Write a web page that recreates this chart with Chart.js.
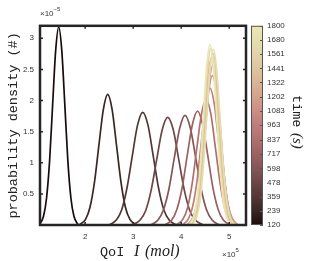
<!DOCTYPE html>
<html>
<head>
<meta charset="utf-8">
<script src="https://cdn.jsdelivr.net/npm/chart.js@4.4.0/dist/chart.umd.min.js"></script>
<style>
  html, body { margin: 0; padding: 0; background: #fff; }
  #wrap { width: 309px; height: 261px; }
</style>
</head>
<body>
<div id="wrap"><canvas id="pdfChart" width="309" height="261"></canvas></div>
<script>
// QoI in units of 1e5 mol, density in units of 1e-5
const times = [120, 239, 359, 478, 598, 717, 837, 963, 1083, 1202, 1322, 1441, 1561, 1680, 1800];

const c120 = [[1.044,0],[1.133,0.14],[1.196,0.43],[1.26,1.03],[1.323,1.93],[1.387,2.81],[1.45,3.18],[1.513,2.81],[1.577,1.93],[1.64,1.03],[1.704,0.43],[1.767,0.14],[1.856,0]];
const c239 = [[1.878,0],[2.008,0.09],[2.10,0.28],[2.193,0.68],[2.285,1.27],[2.378,1.85],[2.47,2.10],[2.563,1.85],[2.655,1.27],[2.748,0.68],[2.84,0.28],[2.933,0.09],[3.062,0]];
const c359 = [[2.496,0],[2.65,0.08],[2.76,0.24],[2.87,0.59],[2.98,1.10],[3.09,1.60],[3.20,1.81],[3.31,1.60],[3.42,1.10],[3.53,0.59],[3.64,0.24],[3.75,0.08],[3.904,0]];
const c478 = [[2.984,0],[3.145,0.08],[3.26,0.23],[3.375,0.56],[3.49,1.05],[3.605,1.53],[3.72,1.73],[3.835,1.53],[3.95,1.05],[4.065,0.56],[4.18,0.23],[4.295,0.08],[4.456,0]];
const c598 = [[3.36,0],[3.518,0.08],[3.63,0.24],[3.743,0.57],[3.855,1.07],[3.968,1.55],[4.08,1.76],[4.193,1.55],[4.305,1.07],[4.418,0.57],[4.53,0.24],[4.643,0.08],[4.80,0]];
const c717 = [[3.652,0],[3.803,0.08],[3.91,0.25],[4.018,0.59],[4.125,1.11],[4.233,1.61],[4.34,1.83],[4.448,1.61],[4.555,1.11],[4.663,0.59],[4.77,0.25],[4.878,0.08],[5.028,0]];
const c837 = [[3.896,0],[4.033,0.09],[4.13,0.27],[4.228,0.66],[4.325,1.23],[4.423,1.78],[4.52,2.02],[4.618,1.78],[4.715,1.23],[4.813,0.66],[4.91,0.27],[5.008,0.09],[5.144,0]];
const c963 = [[4.024,0],[4.15,0.10],[4.24,0.30],[4.33,0.71],[4.42,1.33],[4.51,1.94],[4.60,2.20],[4.69,1.94],[4.78,1.33],[4.87,0.71],[4.96,0.30],[5.05,0.10],[5.176,0]];
const c1083 = [[4.122,0],[4.238,0.11],[4.32,0.32],[4.403,0.78],[4.485,1.46],[4.568,2.12],[4.65,2.40],[4.733,2.12],[4.815,1.46],[4.898,0.78],[4.98,0.32],[5.063,0.11],[5.178,0]];
const c1202 = [[4.164,0],[4.273,0.11],[4.35,0.35],[4.428,0.83],[4.505,1.56],[4.583,2.27],[4.66,2.57],[4.738,2.27],[4.815,1.56],[4.893,0.83],[4.97,0.35],[5.048,0.11],[5.156,0]];
const c1322 = [[4.15,0],[4.255,0.12],[4.33,0.36],[4.405,0.87],[4.48,1.63],[4.555,2.37],[4.63,2.68],[4.705,2.37],[4.78,1.63],[4.855,0.87],[4.93,0.36],[5.005,0.12],[5.11,0]];
const c1441 = [[4.196,0],[4.298,0.12],[4.37,0.37],[4.443,0.90],[4.515,1.67],[4.588,2.44],[4.66,2.76],[4.733,2.44],[4.805,1.67],[4.878,0.90],[4.95,0.37],[5.023,0.12],[5.124,0]];
const c1561 = [[4.172,0],[4.27,0.12],[4.34,0.38],[4.41,0.92],[4.48,1.72],[4.55,2.51],[4.62,2.84],[4.69,2.51],[4.76,1.72],[4.83,0.92],[4.90,0.38],[4.97,0.12],[5.068,0]];
const c1680 = [[4.222,0],[4.32,0.12],[4.39,0.38],[4.46,0.92],[4.53,1.71],[4.60,2.49],[4.67,2.82],[4.74,2.49],[4.81,1.71],[4.88,0.92],[4.95,0.38],[5.02,0.12],[5.118,0]];
const c1800 = [[4.162,0],[4.258,0.13],[4.326,0.39],[4.395,0.94],[4.463,1.76],[4.532,2.56],[4.60,2.90],[4.669,2.56],[4.737,1.76],[4.806,0.94],[4.874,0.39],[4.943,0.13],[5.038,0]];

const curves = [c120, c239, c359, c478, c598, c717, c837, c963, c1083, c1202, c1322, c1441, c1561, c1680, c1800];

const xTicks = [2, 3, 4, 5];
const yTicks = [0.5, 1, 1.5, 2, 2.5, 3];
const timeTicks = times;

const lineColors = ['#1a0b0b', '#3b2525', '#553636', '#6d4646', '#845555', '#9b6262', '#b06f6f', '#c07c7a',
  '#cb8e84', '#d3a28d', '#d9b596', '#dec5a0', '#e2d4a8', '#e6deae', '#eae7b3'];

const ink = '#262626';
const tickFont = { family: 'Liberation Sans, Arial, sans-serif', size: 8 };

const frame = {
  id: 'frame',
  afterDraw(chart) {
    const ctx = chart.ctx;
    const a = chart.chartArea;
    const xs = chart.scales.x, ys = chart.scales.y, cb = chart.scales.cb;
    ctx.save();

    // inward ticks on all four sides
    ctx.strokeStyle = ink;
    ctx.lineWidth = 1.5;
    ctx.beginPath();
    xTicks.forEach(v => {
      const px = xs.getPixelForValue(v);
      ctx.moveTo(px, a.bottom); ctx.lineTo(px, a.bottom - 3);
      ctx.moveTo(px, a.top); ctx.lineTo(px, a.top + 3);
    });
    yTicks.forEach(v => {
      const py = ys.getPixelForValue(v);
      ctx.moveTo(a.left, py); ctx.lineTo(a.left + 3, py);
      ctx.moveTo(a.right, py); ctx.lineTo(a.right - 3, py);
    });
    ctx.stroke();

    ctx.lineWidth = 2.5;
    ctx.strokeRect(a.left, a.top, a.right - a.left, a.bottom - a.top);

    // colour bar
    const bx = a.right + 5, bw = 12;
    const t0 = times[0], t1 = times[times.length - 1];
    const grad = ctx.createLinearGradient(0, cb.bottom, 0, cb.top);
    lineColors.forEach((c, i) => grad.addColorStop((times[i] - t0) / (t1 - t0), c));
    ctx.fillStyle = grad;
    ctx.fillRect(bx, cb.top, bw, cb.bottom - cb.top);
    ctx.lineWidth = 1;
    ctx.strokeStyle = '#555';
    ctx.strokeRect(bx + 0.5, cb.top + 0.5, bw - 1, cb.bottom - cb.top - 1);
    ctx.beginPath();
    timeTicks.forEach(v => {
      const py = Math.round(cb.getPixelForValue(v)) + 0.5;
      ctx.moveTo(bx + bw - 3, py); ctx.lineTo(bx + bw, py);
    });
    ctx.stroke();

    // exponent labels
    ctx.fillStyle = '#333';
    ctx.textBaseline = 'alphabetic';
    ctx.textAlign = 'left';
    ctx.font = '8px "Liberation Sans"';
    ctx.fillText('\u00d710', a.left, 16);
    let w = ctx.measureText('\u00d710').width;
    ctx.font = '6px "Liberation Sans"';
    ctx.fillText('\u22125', a.left + w, 11);

    ctx.font = '8px "Liberation Sans"';
    ctx.fillText('\u00d710', 222, 257);
    w = ctx.measureText('\u00d710').width;
    ctx.font = '6px "Liberation Sans"';
    ctx.fillText('5', 222 + w, 252);

    // x axis title
    ctx.fillStyle = '#222';
    ctx.textBaseline = 'middle';
    ctx.font = '13.5px "Liberation Mono"';
    ctx.fillText('QoI', 100, 252);
    ctx.font = 'italic 16px "Liberation Serif"';
    ctx.fillText('I', 134, 252);
    ctx.fillText('(mol)', 145, 252);

    // colour bar title
    ctx.translate(297, 124);
    ctx.rotate(Math.PI / 2);
    ctx.font = '13.5px "Liberation Mono"';
    ctx.fillText('time', -29, 0);
    ctx.font = 'italic 15px "Liberation Serif"';
    ctx.fillText('(s)', 9, 0);
    ctx.restore();
  }
};

const datasets = curves.map((pts, i) => ({
  label: times[i] + ' s',
  data: pts.map(p => ({ x: p[0], y: p[1] })),
  showLine: true,
  borderColor: lineColors[i],
  borderWidth: 1.7,
  pointRadius: 0,
  cubicInterpolationMode: 'monotone',
  fill: false,
  order: curves.length - i
}));

new Chart(document.getElementById('pdfChart'), {
  type: 'scatter',
  data: { datasets },
  options: {
    responsive: false,
    animation: false,
    devicePixelRatio: 1,
    layout: { padding: { top: 20, right: 0, bottom: 0, left: 0 } },
    plugins: { legend: { display: false }, tooltip: { enabled: false } },
    scales: {
      x: {
        type: 'linear',
        min: 1.06,
        max: 5.35,
        afterBuildTicks: s => { s.ticks = xTicks.map(v => ({ value: v })); },
        afterFit: s => { s.height = 36; },
        grid: { display: false, drawTicks: false },
        border: { display: false },
        ticks: { font: tickFont, color: '#333', padding: 7, maxRotation: 0, callback: v => String(v) }
      },
      y: {
        type: 'linear',
        min: 0,
        max: 3.2,
        afterBuildTicks: s => { s.ticks = yTicks.map(v => ({ value: v })); },
        afterFit: s => { s.width = 40; },
        grid: { display: false, drawTicks: false },
        border: { display: false },
        ticks: { font: tickFont, color: '#333', padding: 6, callback: v => String(v) },
        title: {
          display: true,
          text: 'probability density (#)',
          color: '#222',
          font: { family: 'Liberation Mono, monospace', size: 13.5 },
          padding: { top: 5, bottom: 0 }
        }
      },
      cb: {
        type: 'linear',
        position: 'right',
        min: 120,
        max: 1800,
        afterBuildTicks: s => { s.ticks = timeTicks.map(v => ({ value: v })); },
        afterFit: s => { s.width = 63; },
        grid: { display: false, drawTicks: false },
        border: { display: false },
        ticks: { font: tickFont, color: '#333', padding: 21, callback: v => String(v) }
      }
    }
  },
  plugins: [frame]
});
</script>
</body>
</html>
